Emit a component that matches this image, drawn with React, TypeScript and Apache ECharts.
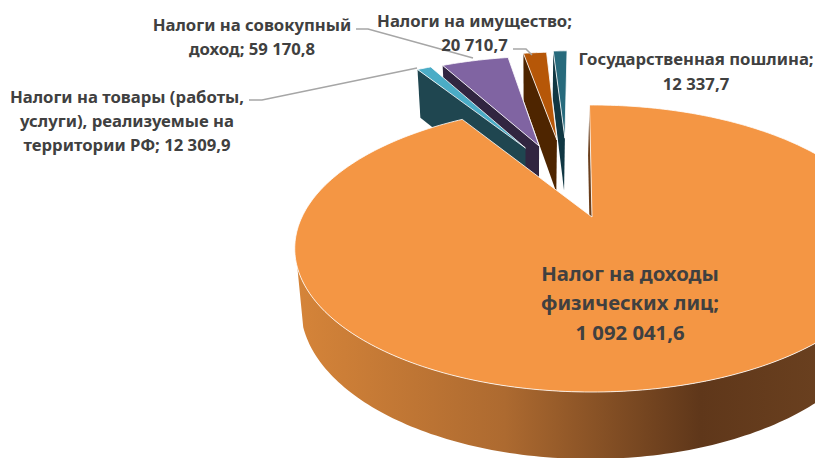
import React, { useEffect, useRef } from "react";
import * as echarts from "echarts";

const categories = ["Налог на доходы физических лиц", "Налоги на товары (работы, услуги), реализуемые на территории РФ", "Налоги на совокупный доход", "Налоги на имущество", "Государственная пошлина"];
const values = [1092041.6, 12309.9, 59170.8, 20710.7, 12337.7];
const topColors = ["#F49644", "#4BACC6", "#8064A2", "#B65708", "#276A7C"];
const wallColors = ["#6B3F1C", "#1F4650", "#312540", "#4E2500", "#103743"];
const explodeU = [0, -0.258, -0.206, -0.138, -0.107];
const explodeV = [0, -0.568, -0.587, -0.643, -0.66];
const layerOrder = [100, 40, 30, 20, 10];

const fmt = (n: number) => {
  const [a, b] = n.toFixed(1).split(".");
  return a.replace(/\B(?=(\d{3})+(?!\d))/g, " ") + "," + b;
};

const CX = 592, CY = 217, R = 290, S = 136.6, K = 0.2195, START = -0.6;
const total = values.reduce((a, b) => a + b, 0);

const project = (u: number, v: number) => {
  const w = 1 - K * v;
  return [CX + (R * u) / w, CY + (S * v) / w];
};
const lower = (p: number[]) => [CX + (p[0] - CX) * 0.975 - 1.5, p[1] + 56.8 + (p[1] - CY) * 0.058];
const onDisk = (deg: number, eu: number, ev: number) => {
  const t = (deg * Math.PI) / 180;
  return project(Math.sin(t) + eu, -Math.cos(t) + ev);
};
const arc = (a: number, b: number, eu: number, ev: number) => {
  const n = Math.max(2, Math.ceil(Math.abs(b - a)));
  const pts: number[][] = [];
  for (let i = 0; i <= n; i++) pts.push(onDisk(a + ((b - a) * i) / n, eu, ev));
  return pts;
};

const renderItem = (params: any, api: any) => {
  const i = params.dataIndex;
  let before = 0;
  for (let j = 0; j < i; j++) before += values[j];
  const a = START + (before / total) * 360;
  const b = a + (api.value(0) / total) * 360;
  const eu = explodeU[i], ev = explodeV[i];
  const apex = project(eu, ev);
  const z = layerOrder[i];
  const stroke = { stroke: "rgba(255,255,255,0.8)", lineWidth: 1 };
  const children: any[] = [];
  if (i === 0) {
    const top = arc(70, 250, eu, ev);
    children.push({
      type: "polygon",
      z2: z,
      shape: { points: top.concat(top.map(lower).reverse()) },
      style: {
        fill: new echarts.graphic.LinearGradient(0, 0, 1, 0, [
          { offset: 0, color: "#D58439" },
          { offset: 0.35, color: "#AD6A30" },
          { offset: 0.68, color: "#5F371A" },
          { offset: 1, color: "#704522" },
        ]),
      },
    });
  }
  const o = onDisk(a, eu, ev);
  children.push({
    type: "polygon",
    z2: z,
    shape: { points: [o, apex, lower(apex), lower(o)] },
    style: { fill: wallColors[i] },
  });
  children.push({
    type: "polygon",
    z2: z + 1,
    shape: { points: [apex].concat(arc(a, b, eu, ev)) },
    style: { fill: topColors[i], ...stroke },
  });
  return { type: "group", children };
};

const textStyle = { fontFamily: "Noto Sans", fontWeight: "bold", fill: "#404040", textAlign: "center", textVerticalAlign: "middle" };
const label = (x: number, y: number, text: string, fontSize: number) => ({
  type: "text",
  x,
  y,
  z: 10,
  style: { ...textStyle, text, fontSize },
});
const leader = (points: number[][]) => ({
  type: "polyline",
  z: 9,
  shape: { points },
  style: { stroke: "#A6A6A6", lineWidth: 1.5, fill: "none" },
});

const SMALL = 16.7, BIG = 20.3;

export default function App() {
  const ref = useRef<HTMLDivElement>(null);
  useEffect(() => {
    const chart = echarts.init(ref.current!, undefined, { renderer: "svg" });
    chart.setOption({
      animation: false,
      backgroundColor: "#fff",
      series: [
        {
          type: "custom",
          coordinateSystem: "none",
          silent: true,
          clip: false,
          renderItem,
          data: values.map((v, i) => ({ name: categories[i], value: [v] })),
        },
      ],
      graphic: [
        leader([[356, 29], [368, 29], [473, 58]]),
        leader([[249, 100], [262, 100], [417, 68]]),
        leader([[513, 49], [526, 49], [532, 55]]),
        label(252, 24, "Налоги на совокупный", SMALL),
        label(252, 48, "доход; " + fmt(values[2]), SMALL),
        label(127, 96, "Налоги на товары (работы,", SMALL),
        label(127, 120, "услуги), реализуемые на", SMALL),
        label(127, 144, "территории РФ; " + fmt(values[1]), SMALL),
        label(474.5, 20, "Налоги на имущество;", SMALL),
        label(474.5, 44, fmt(values[3]), SMALL),
        label(696, 58, "Государственная пошлина;", SMALL),
        label(696, 83, fmt(values[4]), SMALL),
        label(630, 273, "Налог на доходы", BIG),
        label(630, 302, "физических лиц;", BIG),
        label(630, 332, fmt(values[0]), BIG),
      ],
    });
    return () => chart.dispose();
  }, []);
  return <div ref={ref} style={{ position: "fixed", left: 0, top: 0, width: 815, height: 458 }} />;
}
